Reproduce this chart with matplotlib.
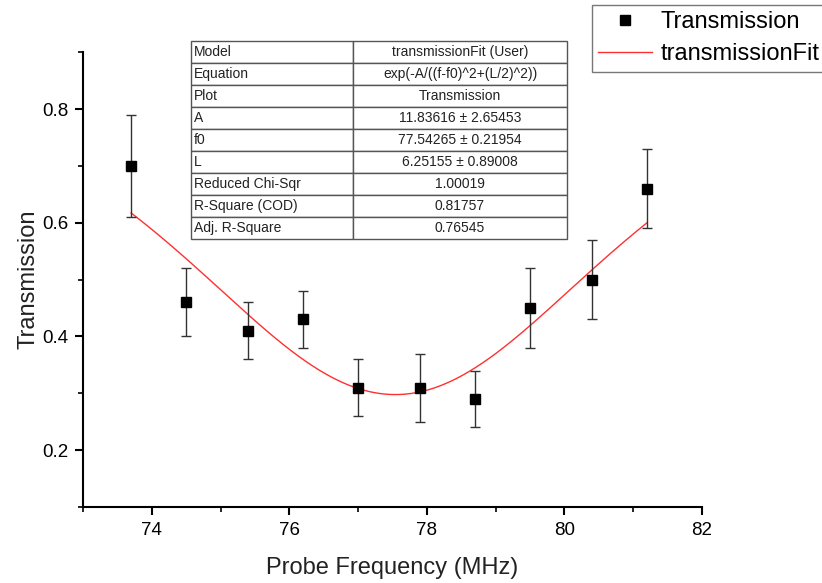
import numpy as np
import matplotlib
matplotlib.use("Agg")
import matplotlib.pyplot as plt
from matplotlib.ticker import MultipleLocator

plt.rcParams['font.family'] = ['Liberation Sans', 'DejaVu Sans']

# measured points
freq = [73.7, 74.5, 75.4, 76.2, 77.0, 77.9, 78.7, 79.5, 80.4, 81.2]
trans = [0.70, 0.46, 0.41, 0.43, 0.31, 0.31, 0.29, 0.45, 0.50, 0.66]
trans_err = [0.09, 0.06, 0.05, 0.05, 0.05, 0.06, 0.05, 0.07, 0.07, 0.07]

# fit parameters (from the table)
fit_A = 11.83616
fit_f0 = 77.54265
fit_L = 6.25155

table_rows = [
    ["Model", "transmissionFit (User)"],
    ["Equation", "exp(-A/((f-f0)^2+(L/2)^2))"],
    ["Plot", "Transmission"],
    ["A", "11.83616 \u00b1 2.65453"],
    ["f0", "77.54265 \u00b1 0.21954"],
    ["L", "6.25155 \u00b1 0.89008"],
    ["Reduced Chi-Sqr", "1.00019"],
    ["R-Square (COD)", "0.81757"],
    ["Adj. R-Square", "0.76545"],
]


def fit_curve(f):
    return np.exp(-fit_A / ((f - fit_f0) ** 2 + (fit_L / 2) ** 2))


def main():
    fig = plt.figure(figsize=(8.22, 5.83), dpi=100)
    ax = fig.add_axes([0.101, 0.1304, 0.7527, 0.7799])

    ff = np.linspace(min(freq), max(freq), 300)
    ax.plot(ff, fit_curve(ff), color='#ff3030', lw=1.0, zorder=2,
            label='transmissionFit')
    ax.errorbar(freq, trans, yerr=trans_err, fmt='none', ecolor='#333333',
                elinewidth=1.0, capsize=3.3, capthick=1.0, zorder=3)
    ax.plot(freq, trans, 's', color='black', ms=6.5, zorder=4,
            label='Transmission')

    ax.set_xlim(73, 82)
    ax.set_ylim(0.1, 0.9)
    ax.xaxis.set_major_locator(MultipleLocator(2))
    ax.xaxis.set_minor_locator(MultipleLocator(1))
    ax.yaxis.set_major_locator(MultipleLocator(0.2))
    ax.yaxis.set_minor_locator(MultipleLocator(0.1))
    ax.set_yticks([0.2, 0.4, 0.6, 0.8])
    ax.set_yticklabels(['0.2', '0.4', '0.6', '0.8'])

    for side in ('top', 'right'):
        ax.spines[side].set_visible(False)
    for side in ('left', 'bottom'):
        ax.spines[side].set_linewidth(1.5)
    ax.tick_params(which='major', direction='out', length=5.5, width=1.5,
                   labelsize=13.5, pad=5, colors='black')
    ax.tick_params(which='minor', direction='out', length=3.5, width=1.2)

    ax.set_xlabel('Probe Frequency (MHz)', fontsize=17, labelpad=13,
                  color='#222222')
    ax.set_ylabel('Transmission', fontsize=17, labelpad=2, color='#222222')

    # parameter table
    tab = ax.table(cellText=table_rows, cellLoc='center',
                   colWidths=[0.431, 0.569],
                   bbox=[(191 - 83) / 618.7, (507 - 239) / 454.7,
                         376 / 618.7, 198 / 454.7])
    tab.auto_set_font_size(False)
    tab.set_fontsize(10)
    tab.set_clip_on(False)
    for (r, c), cell in tab.get_celld().items():
        cell.set_edgecolor('#555555')
        cell.set_linewidth(1.0)
        cell.get_text().set_color('#222222')
        if c == 0:
            cell.get_text().set_ha('left')
            cell.PAD = 0.02

    handles, labels = ax.get_legend_handles_labels()
    leg = fig.legend(handles[::-1], labels[::-1], loc='upper left',
                     bbox_to_anchor=(592 / 822, 1 - 5 / 583),
                     fontsize=17, frameon=True, fancybox=False,
                     handlelength=2.25, handletextpad=0.4,
                     labelspacing=0.42, borderpad=0.27, borderaxespad=0)
    leg.get_frame().set_edgecolor('#555555')
    leg.get_frame().set_linewidth(1.0)

    fig.savefig('out.png', dpi=100)


if __name__ == "__main__":
    main()
